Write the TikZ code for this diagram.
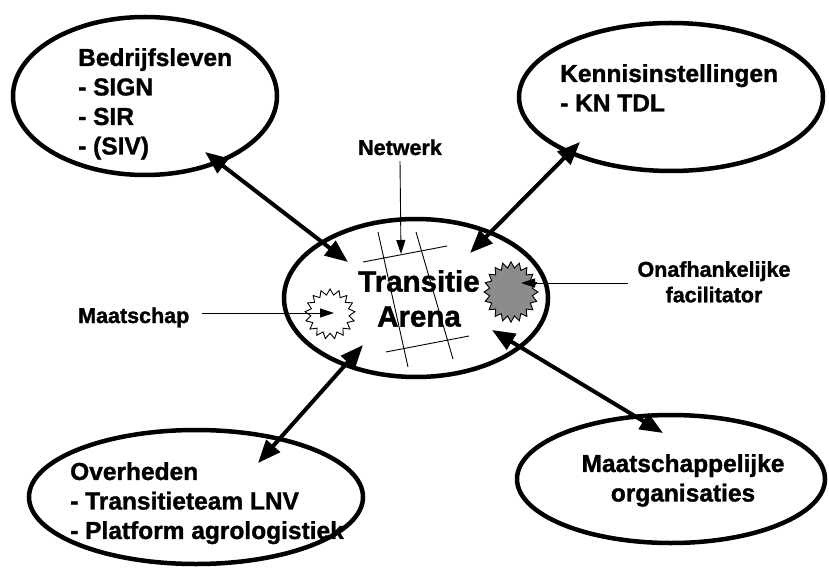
\documentclass[tikz,border=0pt]{standalone}
\usepackage{fontspec}
\setmainfont{Liberation Sans}[BoldFeatures={FakeBold=1.3}]
\usetikzlibrary{shapes.geometric,arrows.meta}
\begin{document}
\begin{tikzpicture}[x=1pt,y=-1pt,
  oval/.style={ellipse,draw,line width=4.5pt,inner sep=0pt,fill=white},
  bigtxt/.style={font=\fontsize{24.5pt}{29.5pt}\selectfont\bfseries,inner sep=0pt},
  centertxt/.style={font=\fontsize{29.5pt}{35pt}\selectfont\bfseries,inner sep=0pt},
  lbltxt/.style={font=\fontsize{21.5pt}{25.5pt}\selectfont\bfseries,inner sep=0pt},
  link/.style={line width=4pt,{Triangle[length=23pt,width=18pt]}-{Triangle[length=23pt,width=18pt]}},
  thinarrow/.style={line width=0.9pt,-{Triangle[length=14pt,width=9pt]}},
  gridline/.style={line width=0.9pt},
  burst/.style={star,draw,line width=0.9pt,inner sep=0pt}
]
\useasboundingbox (0,0) rectangle (829,569);

% ellipses
\node[oval,minimum width=264pt,minimum height=158pt] (bed) at (145,96) {};
\node[oval,minimum width=304pt,minimum height=148pt] (ken) at (671,97) {};
\node[oval,minimum width=334pt,minimum height=134pt] (ove) at (196,497) {};
\node[oval,minimum width=308pt,minimum height=128pt] (maa) at (671,479) {};
\node[oval,minimum width=264pt,minimum height=158pt] (tra) at (416,298) {};

% network grid
\coordinate (g1a) at (378,232); \coordinate (g1b) at (408,367);
\coordinate (g2a) at (416,232); \coordinate (g2b) at (453,359);
\coordinate (g3a) at (363,262); \coordinate (g3b) at (447,246);
\coordinate (g4a) at (386,352); \coordinate (g4b) at (469,336);
\draw[gridline] (g1a) -- (g1b);
\draw[gridline] (g2a) -- (g2b);
\draw[gridline] (g3a) -- (g3b);
\draw[gridline] (g4a) -- (g4b);

% bursts
\node[burst,fill=white,star points=17,star point ratio=1.3,minimum size=50pt] (mstar) at (330,314) {};
\node[burst,fill=black!45,star points=20,star point ratio=1.25,minimum size=54pt,yscale=1.12] (fstar) at (511,292) {};

% texts
\node[bigtxt,anchor=north west,align=left] (bedt) at (78,48) {Bedrijfsleven\\- SIGN\\- SIR\\- (SIV)};
\node[bigtxt,anchor=north west,align=left] (kent) at (560,64) {Kennisinstellingen\\- KN TDL};
\node[bigtxt,anchor=north west,align=left] (ovet) at (70,462) {Overheden\\- Transitieteam LNV\\- Platform agrologistiek};
\node[bigtxt,anchor=north,align=center] (maat) at (683,454) {Maatschappelijke\\organisaties};
\node[centertxt,anchor=north,align=center] (trat) at (419,270) {Transitie\\Arena};

\node[lbltxt,anchor=base] (netl) at (400,155) {Netwerk};
\node[lbltxt,anchor=base west] (maal) at (78,323) {Maatschap};
\node[lbltxt,anchor=north,align=center] (facl) at (714,261) {Onafhankelijke\\facilitator};

% thin arrows
\coordinate (nettip) at (401,254);
\coordinate (maastart) at (202,313);
\coordinate (maatip) at (334,313);
\coordinate (facstart) at (628,283);
\coordinate (factip) at (521,283);
\draw[thinarrow] (netl.south |- 0,161) -- (nettip);
\draw[thinarrow] (maastart) -- (maatip);
\draw[thinarrow] (facstart) -- (factip);

% thick links
\coordinate (b1) at (205,152); \coordinate (b2) at (348,262);
\coordinate (k1) at (580,142); \coordinate (k2) at (470,253);
\coordinate (o1) at (258,463); \coordinate (o2) at (363,345);
\coordinate (m1) at (663,433); \coordinate (m2) at (492,330);
\draw[link] (b1) -- (b2);
\draw[link] (k1) -- (k2);
\draw[link] (o1) -- (o2);
\draw[link] (m1) -- (m2);
\end{tikzpicture}
\end{document}
